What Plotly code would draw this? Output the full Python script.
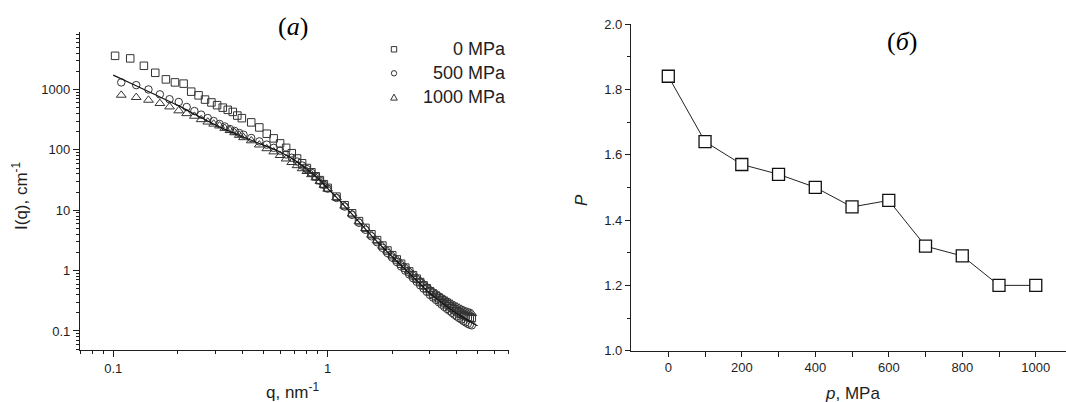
import plotly.graph_objects as go

W, H = 1066, 402

# ---------------- panel (a): scattering curves I(q) ----------------
q_0mpa = [0.102, 0.120, 0.139, 0.157, 0.176, 0.194, 0.213, 0.231, 0.250, 0.268,
          0.287, 0.305, 0.324, 0.342, 0.361, 0.379, 0.398,
          0.44, 0.48, 0.52, 0.56, 0.60, 0.64, 0.68, 0.72, 0.76, 0.80, 0.84, 0.88,
          0.92, 0.96, 1.00, 1.1, 1.2, 1.3, 1.4, 1.5, 1.6, 1.7, 1.8, 1.9, 2.0,
          2.1, 2.2, 2.3, 2.4, 2.5, 2.6, 2.7, 2.8, 2.9, 3.0, 3.1, 3.2, 3.3, 3.4,
          3.5, 3.6, 3.7, 3.8, 3.9, 4.0, 4.1, 4.2, 4.3, 4.4, 4.5, 4.6, 4.7]
i_0mpa = [3610, 3270, 2470, 1890, 1470, 1310, 1250, 920, 800, 680,
          610, 550, 500, 460, 425, 370, 335,
          285, 235, 185, 155, 128, 108, 88, 72, 60, 50, 42.5, 36.5,
          31.5, 27, 23.5, 16.8, 12.1, 8.9, 6.6, 5.1, 4.0, 3.2, 2.6, 2.15, 1.80,
          1.53, 1.30, 1.12, 0.97, 0.84, 0.735, 0.645, 0.57, 0.51, 0.455, 0.415,
          0.38, 0.35, 0.322, 0.298, 0.277, 0.258, 0.242, 0.228, 0.214, 0.203,
          0.193, 0.185, 0.178, 0.172, 0.168, 0.165]

q_500_1000 = [0.109, 0.128, 0.146, 0.165, 0.183, 0.202, 0.220, 0.239, 0.257, 0.276,
              0.294, 0.313, 0.331, 0.350, 0.368, 0.387, 0.405,
              0.44, 0.48, 0.52, 0.56, 0.60, 0.64, 0.68, 0.72, 0.76, 0.80, 0.84, 0.88,
              0.92, 0.96, 1.00, 1.1, 1.2, 1.3, 1.4, 1.5, 1.6, 1.7, 1.8, 1.9, 2.0,
              2.1, 2.2, 2.3, 2.4, 2.5, 2.6, 2.7, 2.8, 2.9, 3.0, 3.1, 3.2, 3.3, 3.4,
              3.5, 3.6, 3.7, 3.8, 3.9, 4.0, 4.1, 4.2, 4.3, 4.4, 4.5, 4.6, 4.7]
i_500mpa = [1310, 1180, 1000, 830, 690, 620, 512, 439, 383, 336,
            300, 268, 244, 221, 206, 190, 178,
            157, 138, 122, 108, 97, 84, 74, 64, 55, 48, 41.5, 36,
            31, 26.5, 22.8, 16, 11.5, 8.4, 6.2, 4.75, 3.7, 2.95, 2.38, 1.96, 1.64,
            1.39, 1.17, 1.0, 0.866, 0.75, 0.655, 0.572, 0.504, 0.445, 0.395, 0.358,
            0.327, 0.298, 0.273, 0.25, 0.232, 0.216, 0.2, 0.186, 0.174, 0.164,
            0.155, 0.146, 0.139, 0.132, 0.127, 0.124]
i_1000mpa = [807, 740, 667, 589, 517, 445, 400, 362, 318, 290,
             268, 250, 228, 210, 193, 175, 160,
             142, 121, 105, 93, 81, 71, 62, 55, 49, 44, 39, 34.5,
             30, 26, 22.5, 16.2, 11.8, 8.7, 6.5, 5.0, 3.9, 3.15, 2.56, 2.13, 1.80,
             1.54, 1.31, 1.14, 0.99, 0.87, 0.765, 0.68, 0.605, 0.543, 0.488, 0.45,
             0.415, 0.385, 0.36, 0.336, 0.316, 0.298, 0.28, 0.265, 0.252, 0.241,
             0.23, 0.221, 0.213, 0.206, 0.2, 0.195]

# model fit curve
q_fit = [0.10, 0.12, 0.15, 0.20, 0.25, 0.30, 0.35, 0.40, 0.50, 0.60, 0.70, 0.80,
         0.90, 1.00, 1.10, 1.20, 1.40, 1.60, 1.80, 2.00, 2.25, 2.50, 2.75, 3.00,
         3.50, 4.00, 4.50, 5.00]
i_fit = [1730, 1280, 880, 545, 360, 258, 201, 165, 121, 92, 68, 48,
         33.7, 23, 16.3, 11.7, 6.4, 3.8, 2.46, 1.70, 1.13, 0.787, 0.566, 0.42,
         0.273, 0.195, 0.151, 0.122]

# ---------------- panel (б): exponent P vs pressure ----------------
pressure = [0, 100, 200, 300, 400, 500, 600, 700, 800, 900, 1000]
p_exponent = [1.84, 1.64, 1.57, 1.54, 1.50, 1.44, 1.46, 1.32, 1.29, 1.20, 1.20]

legend_names = ["0 MPa", "500 MPa", "1000 MPa"]


def px(x):
    return x / W


def py(y):
    return 1 - y / H


SANS = "Liberation Sans, Arial, sans-serif"
SERIF = "Liberation Serif, Times New Roman, serif"
INK = "#1e1e1e"

fig = go.Figure()

fig.add_trace(go.Scatter(
    x=q_0mpa, y=i_0mpa, mode="markers", name=legend_names[0],
    marker=dict(symbol="square-open", size=7.5, color="#333333", line=dict(width=1)),
    xaxis="x", yaxis="y"))
fig.add_trace(go.Scatter(
    x=q_500_1000, y=i_500mpa, mode="markers", name=legend_names[1],
    marker=dict(symbol="circle-open", size=7.5, color="#333333", line=dict(width=1)),
    xaxis="x", yaxis="y"))
fig.add_trace(go.Scatter(
    x=q_500_1000, y=i_1000mpa, mode="markers", name=legend_names[2],
    marker=dict(symbol="triangle-up-open", size=8.5, color="#333333", line=dict(width=1)),
    xaxis="x", yaxis="y"))
fig.add_trace(go.Scatter(
    x=q_fit, y=i_fit, mode="lines", name="fit",
    line=dict(color="#111111", width=1.2, shape="spline"),
    xaxis="x", yaxis="y"))

fig.add_trace(go.Scatter(
    x=pressure, y=p_exponent, mode="lines+markers", name="P",
    line=dict(color="#222222", width=1),
    marker=dict(symbol="square", size=12, color="white",
                line=dict(color="#111111", width=1.3)),
    xaxis="x2", yaxis="y2"))

tickfont = dict(family=SANS, size=13, color=INK)

x_minor = [0.07, 0.08, 0.09] + [k / 10 for k in range(2, 10)] + list(range(2, 8))
y_minor = []
for dec in [0.01, 0.1, 1, 10, 100, 1000]:
    for k in range(2, 10):
        v = k * dec
        if 0.048 < v < 9000:
            y_minor.append(v)

axis_common = dict(showline=True, linecolor=INK, linewidth=1.3, ticks="outside",
                   tickcolor=INK, tickwidth=1.2, showgrid=False, zeroline=False,
                   automargin=False, tickfont=tickfont)

fig.update_layout(
    template="none",
    width=W, height=H,
    margin=dict(l=0, r=0, t=0, b=0, pad=0, autoexpand=False),
    paper_bgcolor="white", plot_bgcolor="white",
    showlegend=False,
    xaxis=dict(type="log", range=[-1.155, 0.847], domain=[px(80), px(509.3)],
               anchor="y", tickvals=[0.1, 1], ticktext=["0.1", "1"], ticklen=6,
               minor=dict(tickvals=x_minor, ticks="outside", ticklen=3,
                          tickcolor=INK, tickwidth=1, showgrid=False),
               **axis_common),
    yaxis=dict(type="log", range=[-1.315, 3.957], domain=[py(350), py(31.7)],
               anchor="x", tickvals=[0.1, 1, 10, 100, 1000],
               ticktext=["0.1", "1", "10", "100", "1000"], ticklen=6,
               minor=dict(tickvals=y_minor, ticks="outside", ticklen=3,
                          tickcolor=INK, tickwidth=1, showgrid=False),
               **axis_common),
    xaxis2=dict(range=[-101.5, 1082.3], domain=[px(631), 1.0], anchor="y2",
                tickvals=[0, 200, 400, 600, 800, 1000], ticklen=5,
                minor=dict(tickvals=[100, 300, 500, 700, 900], ticks="outside",
                           ticklen=5, tickcolor=INK, tickwidth=1, showgrid=False),
                **axis_common),
    yaxis2=dict(range=[1.0, 2.0], domain=[py(350.7), py(24)], anchor="x2",
                tickvals=[1.0, 1.2, 1.4, 1.6, 1.8, 2.0], tickformat=".1f", ticklen=5,
                minor=dict(tickvals=[1.1, 1.3, 1.5, 1.7, 1.9], ticks="outside",
                           ticklen=3, tickcolor=INK, tickwidth=1, showgrid=False),
                **axis_common),
)

annotations = [
    dict(text="(<i>a</i>)", x=px(293), y=py(26), font=dict(family=SERIF, size=26, color="black")),
    dict(text="(<i>б</i>)", x=px(902), y=py(42), font=dict(family=SERIF, size=26, color="black")),
    dict(text="I(q), cm<sup>-1</sup>", x=px(20), y=py(196), textangle=-90,
         font=dict(family=SANS, size=17, color=INK)),
    dict(text="q, nm<sup>-1</sup>", x=px(292), y=py(391),
         font=dict(family=SANS, size=17, color=INK)),
    dict(text="<i>P</i>", x=px(582), y=py(200), textangle=-90,
         font=dict(family=SANS, size=17, color=INK)),
    dict(text="<i>p</i>, MPa", x=px(852), y=py(393),
         font=dict(family=SANS, size=17, color=INK)),
]
for a in annotations:
    a.update(xref="paper", yref="paper", showarrow=False,
             xanchor="center", yanchor="middle")

# legend entries (symbol + right-aligned label)
rows = [49.3, 73.3, 97.3]
for name, yrow in zip(legend_names, rows):
    annotations.append(dict(text=name, x=px(508), y=py(yrow), xref="paper", yref="paper",
                            showarrow=False, xanchor="right", yanchor="middle",
                            font=dict(family=SANS, size=18, color=INK)))
fig.update_layout(annotations=annotations)

sx, s = 394, 2.7
shape_line = dict(color="#333333", width=1)
fig.add_shape(type="rect", xref="paper", yref="paper",
              x0=px(sx - s), x1=px(sx + s), y0=py(rows[0] + s), y1=py(rows[0] - s),
              line=shape_line)
fig.add_shape(type="circle", xref="paper", yref="paper",
              x0=px(sx - s), x1=px(sx + s), y0=py(rows[1] + s), y1=py(rows[1] - s),
              line=shape_line)
tri = "M {:.5f} {:.5f} L {:.5f} {:.5f} L {:.5f} {:.5f} Z".format(
    px(sx - 3.3), py(rows[2] + 2.8), px(sx + 3.3), py(rows[2] + 2.8),
    px(sx), py(rows[2] - 3.2))
fig.add_shape(type="path", xref="paper", yref="paper", path=tri, line=shape_line)

fig.write_html("out.html")
